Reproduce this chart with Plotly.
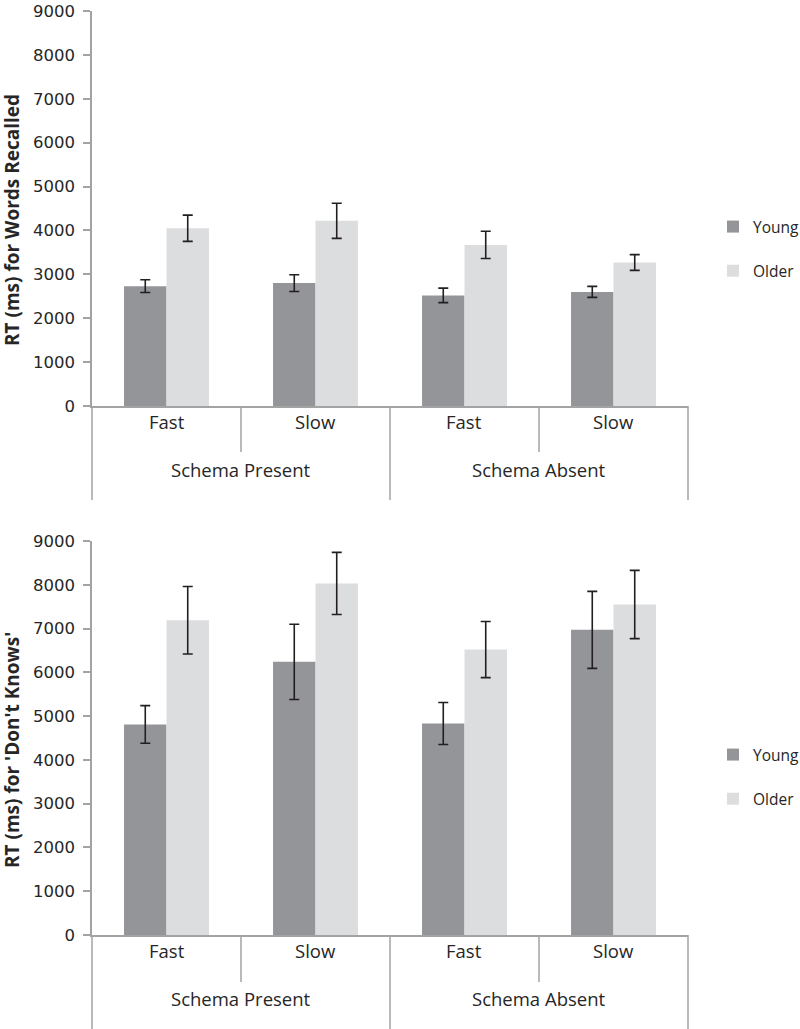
import plotly.graph_objects as go

# ---------------- data ----------------
outer_cats = ["Schema Present", "Schema Present", "Schema Absent", "Schema Absent"]
inner_cats = ["Fast", "Slow", "Fast", "Slow"]
outer_labels = ["Schema Present", "Schema Absent"]
series_names = ["Young", "Older"]

words_young = [2730, 2800, 2520, 2600]
words_young_err = [145, 190, 165, 125]
words_older = [4050, 4220, 3670, 3270]
words_older_err = [300, 400, 310, 180]

dk_young = [4810, 6240, 4830, 6970]
dk_young_err = [430, 860, 480, 880]
dk_older = [7190, 8030, 6520, 7550]
dk_older_err = [770, 710, 640, 780]

y_ticks = [0, 1000, 2000, 3000, 4000, 5000, 6000, 7000, 8000, 9000]
titles = ["RT (ms) for Words Recalled", "RT (ms) for 'Don't Knows'"]

# ---------------- style ----------------
W, H = 800, 1029
C_YOUNG = "#939598"
C_OLDER = "#dcdddf"
AX = "#a3a3a3"
TXT = "#262626"
ERR = "#231f20"

def px(x):
    return x / W

def py(y):
    return 1 - y / H

X0, X1 = 92, 688
panels = [
    dict(top=11, bottom=406, xa="x", ya="y", legend="legend", outer_end=500,
         inner_end=452, title_y=220, legend_top=210),
    dict(top=541, bottom=935, xa="x2", ya="y2", legend="legend2", outer_end=1029,
         inner_end=982, title_y=750, legend_top=738),
]
data_sets = [
    (words_young, words_young_err, words_older, words_older_err),
    (dk_young, dk_young_err, dk_older, dk_older_err),
]

fig = go.Figure()
shapes = []
annotations = []

for p, (yv, ye, ov, oe), title in zip(panels, data_sets, titles):
    for name, vals, errs, col in [(series_names[0], yv, ye, C_YOUNG),
                                   (series_names[1], ov, oe, C_OLDER)]:
        fig.add_trace(go.Bar(
            x=[outer_cats, inner_cats], y=vals, name=name,
            marker=dict(color=col, line=dict(width=0)),
            error_y=dict(type="data", array=errs, visible=True,
                         color=ERR, thickness=1.6, width=5),
            xaxis=p["xa"], yaxis=p["ya"], legend=p["legend"],
            legendgroup=p["legend"] + name,
        ))

    # category labels and dividers
    w = (X1 - X0) / len(inner_cats)
    for i, lab in enumerate(inner_cats):
        annotations.append(dict(
            text=lab, x=px(X0 + (i + 0.5) * w), y=py(p["bottom"] + 15),
            xref="paper", yref="paper", showarrow=False,
            xanchor="center", yanchor="middle",
            font=dict(family="Open Sans", size=18.5, color=TXT)))
    for j, lab in enumerate(outer_labels):
        annotations.append(dict(
            text=lab, x=px(X0 + (2 * j + 1) * w), y=py(p["bottom"] + 63),
            xref="paper", yref="paper", showarrow=False,
            xanchor="center", yanchor="middle",
            font=dict(family="Open Sans", size=18.5, color=TXT)))
    for k in range(len(inner_cats) + 1):
        xx = px(X0 + k * w)
        end = p["outer_end"] if k % 2 == 0 else p["inner_end"]
        shapes.append(dict(type="line", xref="paper", yref="paper",
                           x0=xx, x1=xx, y0=py(p["bottom"]), y1=py(end),
                           line=dict(color=AX, width=1.5)))
    # axis title
    annotations.append(dict(
        text="<b>" + title + "</b>", x=px(12), y=py(p["title_y"]),
        xref="paper", yref="paper", showarrow=False, textangle=-90,
        xanchor="center", yanchor="middle",
        font=dict(family="Open Sans", size=19, color=TXT)))

xaxis_common = dict(domain=[px(X0), px(X1)], type="multicategory",
                    showticklabels=False, showdividers=False, ticks="",
                    showline=True, linecolor=AX, linewidth=1.5,
                    showgrid=False, zeroline=False, fixedrange=True,
                    automargin=False)
yaxis_common = dict(range=[0, 9000], tickvals=y_ticks, ticks="outside",
                    ticklen=7, tickcolor=AX, tickwidth=1.5,
                    showline=True, linecolor=AX, linewidth=1.5,
                    showgrid=False, zeroline=False, automargin=False,
                    tickfont=dict(family="DejaVu Sans", size=16.5, color=TXT),
                    ticklabelstandoff=5)

legend_common = dict(xanchor="left", yanchor="top", bgcolor="rgba(0,0,0,0)",
                     font=dict(family="Open Sans", size=15.5, color=TXT),
                     tracegroupgap=21, traceorder="grouped", itemwidth=30,
                     x=px(713))

fig.update_layout(
    width=W, height=H,
    margin=dict(l=0, r=0, t=0, b=0, autoexpand=False),
    paper_bgcolor="white", plot_bgcolor="white",
    barmode="group", bargap=0.43, bargroupgap=0,
    xaxis=dict(**xaxis_common, anchor="y"),
    xaxis2=dict(**xaxis_common, anchor="y2"),
    yaxis=dict(**yaxis_common, domain=[py(406), py(11)], anchor="x"),
    yaxis2=dict(**yaxis_common, domain=[py(935), py(541)], anchor="x2"),
    legend=dict(**legend_common, y=py(panels[0]["legend_top"])),
    legend2=dict(**legend_common, y=py(panels[1]["legend_top"])),
    shapes=shapes,
    annotations=annotations,
    showlegend=True,
)

fig.write_html("out.html",
               config={"displayModeBar": False},
               post_script="document.body.style.margin='0px';"
                           "document.body.style.overflow='hidden';")
